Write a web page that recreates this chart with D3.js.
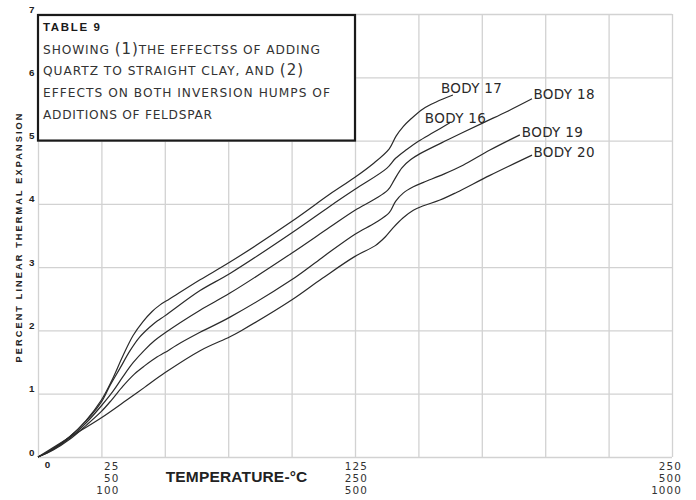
<!DOCTYPE html>
<html>
<head>
  <meta charset="utf-8">
  <style>
    body { margin: 0; background: #fff; }
    svg { display: block; }
  </style>
</head>
<body>
  <svg id="chart" width="696" height="500"></svg>
  <script src="https://cdn.jsdelivr.net/npm/d3@7"></script>
  <script>
    // 数据：温度（第一行刻度 0-250）与线膨胀百分比
    var body17 = [[0, 0], [6, 0.13], [12.5, 0.32], [19, 0.58], [25, 0.90], [29, 1.20], [33.5, 1.60], [37.5, 1.92],
      [41.4, 2.14], [45, 2.30], [48, 2.40], [52, 2.50], [63.9, 2.80], [75.7, 3.08], [100, 3.72], [115, 4.15],
      [125, 4.42], [132, 4.63], [138.5, 4.87], [141.2, 5.07], [144, 5.22], [147, 5.34], [151.8, 5.50],
      [157, 5.61], [163.6, 5.72]];
    var body16 = [[0, 0], [6, 0.13], [12.5, 0.32], [19, 0.57], [25, 0.87], [28.4, 1.13], [32.3, 1.40], [36.3, 1.68],
      [40, 1.89], [44, 2.05], [47, 2.15], [50, 2.23], [63.9, 2.63], [75.7, 2.90], [100, 3.54], [115, 3.96],
      [125, 4.23], [137.5, 4.56], [141, 4.72], [145.4, 4.86], [150, 4.99], [156, 5.13], [162.4, 5.28]];
    var body18 = [[0, 0], [6, 0.12], [12.5, 0.30], [19, 0.54], [25, 0.81], [29.6, 1.04], [33.5, 1.27], [37.5, 1.49],
      [42, 1.69], [46, 1.84], [50, 1.96], [63.9, 2.32], [75.7, 2.59], [100, 3.22], [115, 3.63], [125, 3.90],
      [133, 4.08], [138, 4.22], [140.5, 4.38], [143.5, 4.57], [147, 4.70], [150.5, 4.79], [162, 5.02],
      [175.5, 5.28], [185, 5.46], [194.8, 5.66]];
    var body19 = [[0, 0], [6, 0.11], [12.5, 0.28], [19, 0.50], [25, 0.72], [29, 0.90], [33.5, 1.12], [38, 1.31],
      [42, 1.44], [46.9, 1.58], [50, 1.65], [54.8, 1.77], [63.9, 1.97], [75.7, 2.21], [100, 2.80], [112, 3.15],
      [125, 3.52], [133, 3.70], [138.5, 3.86], [141, 4.04], [144, 4.17], [148, 4.27], [152, 4.34], [160, 4.47],
      [167.6, 4.61], [178.2, 4.85], [190, 5.09]];
    var body20 = [[0, 0], [12.5, 0.31], [25, 0.62], [35, 0.90], [42, 1.10], [50, 1.33], [63.9, 1.68], [75.7, 1.90],
      [80.3, 2.00], [100, 2.48], [112, 2.82], [125, 3.17], [133, 3.34], [137, 3.48], [140, 3.62], [144, 3.78],
      [148, 3.90], [152, 3.97], [158.5, 4.06], [165, 4.18], [178.2, 4.45], [194.8, 4.77]];

    var seriesNames = ["BODY 17", "BODY 16", "BODY 18", "BODY 19", "BODY 20"];
    var seriesValues = [body17, body16, body18, body19, body20];

    var xGrid = d3.range(0, 251, 25);
    var yTicks = [0, 1, 2, 3, 4, 5, 6, 7];
    var xTicks = [25, 125, 250];
    var xTickLabels = [["25", "50", "100"], ["125", "250", "500"], ["250", "500", "1000"]];

    var titleLines = ["TABLE 9",
      "SHOWING (1)THE EFFECTSS OF ADDING",
      "QUARTZ TO STRAIGHT CLAY, AND (2)",
      "EFFECTS ON BOTH INVERSION HUMPS OF",
      "ADDITIONS OF FELDSPAR"];

    // 尺寸与样式
    var width = 696, height = 500;
    var padding = { top: 14, left: 38, bottom: 43, right: 24 };
    var labelDx = [-12, -25, 1.5, 2, 1.5];
    var labelDy = [-2, 0, 0, 2, 1.6];
    var xTickNudge = [18, 13, 10];
    var titleWidths = [57, 277, 260, 287, 169];

    var svg = d3.select("#chart");

    var x = d3.scaleLinear().domain([0, 250]).range([padding.left, width - padding.right]);
    var y = d3.scaleLinear().domain([0, 7]).range([height - padding.bottom, padding.top]);

    // 按目标宽度调整字距
    function fit(t, w) {
      var n = t.text().length;
      var len = t.node().getComputedTextLength();
      t.attr("letter-spacing", ((w - len) / (n - 1)).toFixed(3));
    }

    // 网格
    svg.append("g")
      .attr("transform", "translate(0," + y(0) + ")")
      .call(d3.axisBottom(x).tickValues(xGrid).tickSize(y(7) - y(0)).tickFormat(""))
      .call(g => g.select(".domain").remove())
      .call(g => g.selectAll("line").attr("stroke", "#d2d2d2").attr("stroke-width", 1.3));
    svg.append("g")
      .attr("transform", "translate(" + x(0) + ",0)")
      .call(d3.axisLeft(y).tickValues(yTicks).tickSize(x(0) - x(250)).tickFormat(""))
      .call(g => g.select(".domain").remove())
      .call(g => g.selectAll("line").attr("stroke", "#d2d2d2").attr("stroke-width", 1.3));

    // y 刻度
    svg.append("g").selectAll("text")
      .data(yTicks)
      .join("text")
      .attr("x", x(0) - 3.5)
      .attr("y", d => y(d) - 1.5)
      .attr("text-anchor", "end")
      .attr("font-family", "Liberation Sans, Arial, sans-serif")
      .attr("font-weight", "bold")
      .attr("font-size", 9.8)
      .attr("fill", "#222")
      .text(d => d);

    // x 刻度
    svg.append("text")
      .attr("x", x(0) + 9.5)
      .attr("y", y(0) + 10.5)
      .attr("text-anchor", "middle")
      .attr("font-family", "Liberation Sans, Arial, sans-serif")
      .attr("font-weight", "bold")
      .attr("font-size", 9.8)
      .attr("fill", "#222")
      .text("0");

    // 三种温标叠放
    svg.append("g").selectAll("text")
      .data(xTicks)
      .join("text")
      .attr("y", y(0) + 13)
      .attr("text-anchor", "end")
      .attr("font-family", "DejaVu Sans, sans-serif")
      .attr("font-size", 10.4)
      .attr("letter-spacing", 1.1)
      .attr("fill", "#333")
      .selectAll("tspan")
      .data((d, i) => xTickLabels[i].map(s => ({ t: d, s: s, i: i })))
      .join("tspan")
      .attr("x", d => x(d.t) + xTickNudge[d.i])
      .attr("dy", (d, j) => j == 0 ? 0 : 12.2)
      .text(d => d.s);

    // 轴标题
    var xTitle = svg.append("text")
      .attr("x", 165.7)
      .attr("y", y(0) + 24.7)
      .attr("font-family", "Liberation Sans, Arial, sans-serif")
      .attr("font-weight", "bold")
      .attr("font-size", 15.5)
      .attr("fill", "#222")
      .text("TEMPERATURE-°C");
    fit(xTitle, 141.6);

    var yTitle = svg.append("text")
      .attr("transform", "translate(21.5," + 237 + ") rotate(-90)")
      .attr("text-anchor", "middle")
      .attr("font-family", "Liberation Sans, Arial, sans-serif")
      .attr("font-weight", "bold")
      .attr("font-size", 9.2)
      .attr("fill", "#222")
      .text("PERCENT LINEAR THERMAL EXPANSION");
    var n = yTitle.text().length;
    var len = yTitle.node().getComputedTextLength();
    yTitle.attr("letter-spacing", ((251 - len) / n).toFixed(3));

    // 曲线
    var line = d3.line()
      .x(d => x(d[0]))
      .y(d => y(d[1]))
      .curve(d3.curveCatmullRom.alpha(0.5));

    svg.append("g").selectAll("path")
      .data(seriesValues)
      .join("path")
      .attr("d", line)
      .attr("fill", "none")
      .attr("stroke", "#2a2a2a")
      .attr("stroke-width", 1.2);

    // 曲线标签
    svg.append("g").selectAll("text")
      .data(seriesValues)
      .join("text")
      .attr("x", (d, i) => x(d[d.length - 1][0]) + labelDx[i])
      .attr("y", (d, i) => y(d[d.length - 1][1]) + labelDy[i])
      .attr("font-family", "DejaVu Sans, sans-serif")
      .attr("font-size", 13.5)
      .attr("fill", "#2a2a2a")
      .text((d, i) => seriesNames[i])
      .each(function () { fit(d3.select(this), 61); });

    // 标题框
    svg.append("rect")
      .attr("x", x(0))
      .attr("y", y(7) + 1)
      .attr("width", x(125) - x(0))
      .attr("height", y(5) - y(7) - 1)
      .attr("fill", "#fff")
      .attr("stroke", "#1a1a1a")
      .attr("stroke-width", 2.2);

    titleLines.forEach(function (s, i) {
      var t = svg.append("text")
        .attr("x", x(0) + 5)
        .attr("y", i == 0 ? 30.5 : 53.5 + (i - 1) * 21.7)
        .attr("font-family", i == 0 ? "Liberation Sans, Arial, sans-serif" : "DejaVu Sans, sans-serif")
        .attr("font-weight", i == 0 ? "bold" : "normal")
        .attr("font-size", i == 0 ? 11.5 : 12.2)
        .attr("fill", i == 0 ? "#1a1a1a" : "#333");
      // 括号部分字号更大
      s.split(/(\(\d\))/).forEach(function (part) {
        if (!part) return;
        t.append("tspan")
          .attr("font-size", /^\(\d\)$/.test(part) ? 15 : null)
          .text(part);
      });
      fit(t, titleWidths[i]);
    });
  </script>
</body>
</html>
